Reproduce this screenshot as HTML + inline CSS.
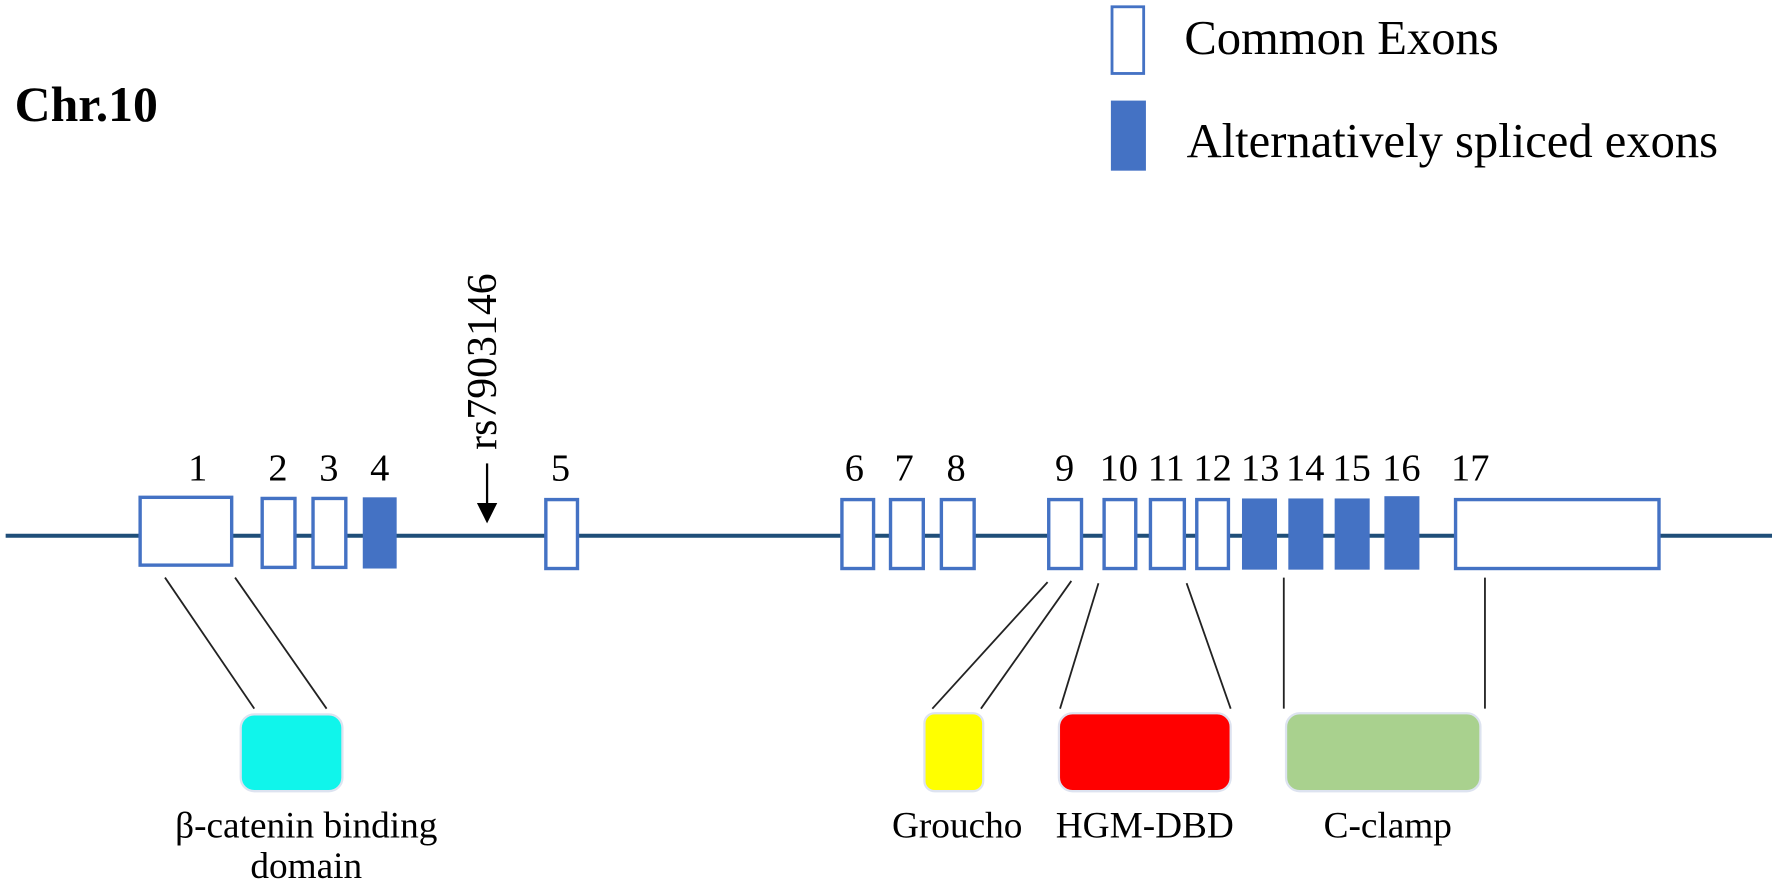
<!DOCTYPE html>
<html><head><meta charset="utf-8"><style>
html,body{margin:0;padding:0;background:#fff;}
svg{display:block;}
text{font-family:"Liberation Serif",serif;fill:#000;}
</style></head><body>
<svg width="1772" height="885" viewBox="0 0 1568 783" preserveAspectRatio="none">
<text x="13" y="107" font-size="44" font-weight="bold">Chr.10</text>
<rect x="984" y="6" width="28" height="59" fill="#fff" stroke="#4472c4" stroke-width="2.5"/>
<text x="1048" y="48" font-size="43">Common Exons</text>
<rect x="983" y="89" width="31" height="62" fill="#4472c4"/>
<text x="1050" y="139" font-size="43">Alternatively spliced exons</text>
<line x1="5" y1="474" x2="1766" y2="474" stroke="#1f4e79" stroke-width="3.5"/>
<g stroke="#4472c4" stroke-width="3" fill="#fff">
<rect x="124" y="440" width="81" height="60"/>
<rect x="232" y="441" width="29" height="61"/>
<rect x="277" y="441" width="29" height="61"/>
<rect x="483" y="442" width="28" height="61"/>
<rect x="745" y="442" width="28" height="61"/>
<rect x="788" y="442" width="29" height="61"/>
<rect x="833" y="442" width="29" height="61"/>
<rect x="928" y="442" width="29" height="61"/>
<rect x="977" y="442" width="28" height="61"/>
<rect x="1018" y="442" width="30" height="61"/>
<rect x="1059" y="442" width="28" height="61"/>
<rect x="1288" y="442" width="180" height="61"/>
</g>
<g fill="#4472c4">
<rect x="321" y="440" width="30" height="63"/>
<rect x="1099" y="441" width="31" height="63"/>
<rect x="1140" y="441" width="31" height="63"/>
<rect x="1181" y="441" width="31" height="63"/>
<rect x="1225" y="439" width="31" height="65"/>
</g>
<g font-size="34" text-anchor="middle">
<text x="175" y="425">1</text><text x="246" y="425">2</text><text x="291" y="425">3</text><text x="336" y="425">4</text>
<text x="496" y="425">5</text><text x="756" y="425">6</text><text x="800" y="425">7</text><text x="846" y="425">8</text>
<text x="942" y="425">9</text><text x="990" y="425">10</text><text x="1032" y="425">11</text><text x="1073" y="425">12</text>
<text x="1115" y="425">13</text><text x="1155" y="425">14</text><text x="1196" y="425">15</text><text x="1240" y="425">16</text>
<text x="1301" y="425">17</text>
</g>
<text transform="translate(439,398) rotate(-90)" font-size="37">rs7903146</text>
<line x1="431" y1="410" x2="431" y2="447" stroke="#000" stroke-width="2"/>
<polygon points="422,445 440,445 431,463" fill="#000"/>
<g stroke="#222" stroke-width="1.6">
<line x1="146" y1="511" x2="225" y2="627"/>
<line x1="208" y1="511" x2="289" y2="627"/>
<line x1="927" y1="515" x2="825" y2="627"/>
<line x1="948" y1="514" x2="868" y2="627"/>
<line x1="972" y1="516" x2="938" y2="627"/>
<line x1="1050" y1="516" x2="1089" y2="627"/>
<line x1="1136" y1="511" x2="1136" y2="627"/>
<line x1="1314" y1="511" x2="1314" y2="627"/>
</g>
<g stroke="#dde3f0" stroke-width="2">
<rect x="213" y="632" width="90" height="68" rx="12" fill="#10f5eb"/>
<rect x="818" y="631" width="52" height="69" rx="9" fill="#ffff00"/>
<rect x="937" y="631" width="152" height="69" rx="12" fill="#ff0000"/>
<rect x="1138" y="631" width="172" height="69" rx="12" fill="#a9d18e"/>
</g>
<g font-size="33" text-anchor="middle">
<text x="271" y="741">β-catenin binding</text>
<text x="271" y="777">domain</text>
<text x="847" y="741">Groucho</text>
<text x="1013" y="741">HGM-DBD</text>
<text x="1228" y="741">C-clamp</text>
</g>
</svg>
</body></html>
